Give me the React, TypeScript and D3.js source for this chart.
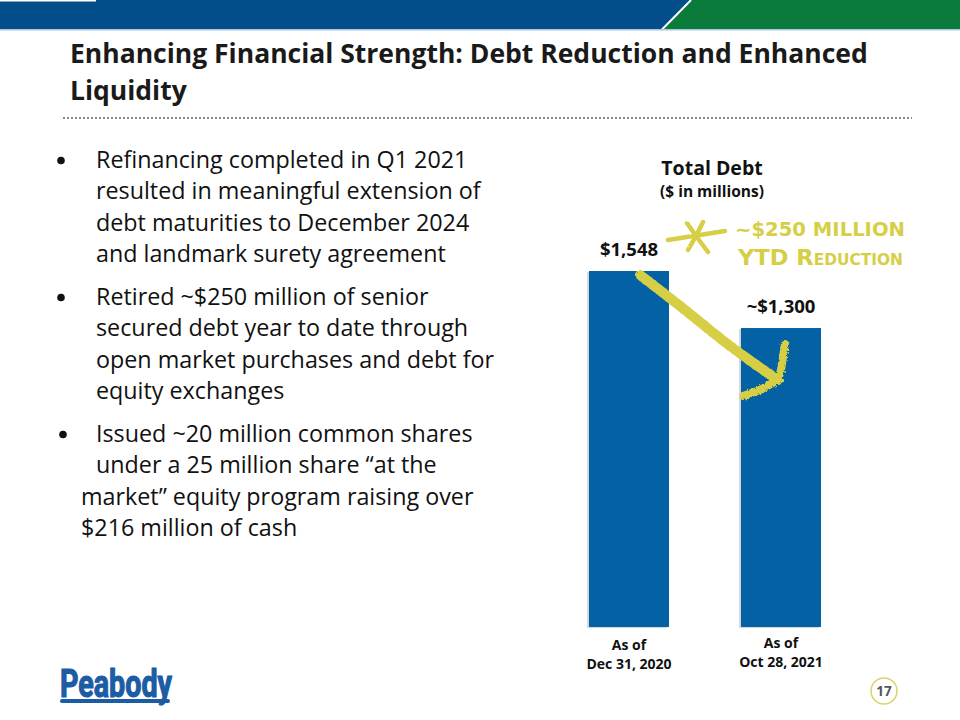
import React from "react";
import * as d3 from "d3";

// Chart data
const categories = ["Dec 31, 2020", "Oct 28, 2021"];
const categoryPrefix = ["As of", "As of"];
const debtValues = [1548, 1300];
const valueLabels = ["$1,548", "~$1,300"];

// Slide text
const titleLines = [
  "Enhancing Financial Strength: Debt Reduction and Enhanced",
  "Liquidity",
];
const bullets: { lines: string[]; indents: number[] }[] = [
  {
    lines: [
      "Refinancing completed in Q1 2021",
      "resulted in meaningful extension of",
      "debt maturities to December 2024",
      "and landmark surety agreement",
    ],
    indents: [96, 96, 96, 96],
  },
  {
    lines: [
      "Retired ~$250 million of senior",
      "secured debt year to date through",
      "open market purchases and debt for",
      "equity exchanges",
    ],
    indents: [96, 96, 96, 96],
  },
  {
    lines: [
      "Issued ~20 million common shares",
      "under a 25 million share \u201cat the",
      "market\u201d equity program raising over",
      "$216 million of cash",
    ],
    indents: [96, 96, 81, 81],
  },
];
const bulletTops = [168, 305, 442];
const annotationLines = ["~$250 MILLION", "YTD Reduction"];

const W = 960;
const H = 720;
const FONT = "'Open Sans', Lato, sans-serif";
const BAR = "#0462a4";
const MARKER = "#d6cf45";

export default function App() {
  const x = d3
    .scaleBand<string>()
    .domain(categories)
    .range([589, 821])
    .paddingInner(72 / 152)
    .paddingOuter(0);
  const y = d3.scaleLinear().domain([0, debtValues[0]]).range([627, 271]);

  const lineH = 31.3;

  // Hand-drawn arrow from the first bar down to the second
  const shaft = d3.line().curve(d3.curveCatmullRom)([
    [640, 275],
    [680, 306],
    [730, 346],
    [778, 380],
  ]);
  const head = d3.line()([
    [785, 344],
    [781, 370],
    [778, 380],
    [760, 390],
    [743, 396],
  ]);
  // Asterisk: a long stroke plus four arms around a centre point
  const starCentre: [number, number] = [696, 236];
  const starEnds: [number, number][] = [
    [687, 223],
    [703, 222],
    [708, 252],
    [688, 250],
  ];

  return (
    <svg
      width={W}
      height={H}
      viewBox={`0 0 ${W} ${H}`}
      style={{ position: "absolute", left: 0, top: 0, background: "#fff" }}
    >
      <defs>
        <filter id="rough" x="-10%" y="-10%" width="120%" height="120%">
          <feTurbulence type="fractalNoise" baseFrequency="0.35" numOctaves="2" seed="3" />
          <feDisplacementMap in="SourceGraphic" scale="4" />
        </filter>
        <filter id="roughSoft" x="-10%" y="-10%" width="120%" height="120%">
          <feTurbulence type="fractalNoise" baseFrequency="0.3" numOctaves="2" seed="5" />
          <feDisplacementMap in="SourceGraphic" scale="1.8" />
        </filter>
      </defs>

      {/* Header band */}
      <polygon points="0,0 691,0 662,29 0,29" fill="#034e8a" />
      <polygon points="691,0 960,0 960,29 662,29" fill="#0a7b3a" />
      <line x1={662} y1={29.5} x2={691} y2={0} stroke="#fff" strokeWidth={2} />
      <rect x={0} y={29} width={W} height={1.5} fill="#a9c6e0" />
      <rect x={0} y={0} width={96} height={1.5} fill="#fff" />

      {/* Title */}
      {titleLines.map((t, i) => (
        <text
          key={t}
          x={70}
          y={63 + i * 37}
          fontFamily={FONT}
          fontWeight={700}
          fontSize={26.5}
          fill="#1a1a1a"
        >
          {t}
        </text>
      ))}
      <line
        x1={63}
        y1={118}
        x2={912}
        y2={118}
        stroke="#8a8a8a"
        strokeWidth={2}
        strokeDasharray="2 2"
      />

      {/* Bullets */}
      {bullets.map((b, bi) => (
        <g key={bi}>
          <circle cx={bi === 2 ? 63 : 61} cy={bulletTops[bi] - 7.5} r={3.8} fill="#111" />
          {b.lines.map((l, li) => (
            <text
              key={li}
              x={b.indents[li]}
              y={bulletTops[bi] + li * lineH}
              fontFamily={FONT}
              fontSize={23.3}
              fill="#111"
            >
              {l}
            </text>
          ))}
        </g>
      ))}

      {/* Chart title */}
      <text x={712} y={175} textAnchor="middle" fontFamily={FONT} fontWeight={700} fontSize={19.5} fill="#111">
        Total Debt
      </text>
      <text x={712} y={197} textAnchor="middle" fontFamily={FONT} fontWeight={700} fontSize={15.5} fill="#111">
        ($ in millions)
      </text>

      {/* Bars */}
      {categories.map((c, i) => {
        const bx = x(c)!;
        const by = y(debtValues[i]);
        return (
          <g key={c}>
            <rect x={bx - 2} y={by + 1} width={x.bandwidth()} height={y(0) - by} fill="#b9bcc0" opacity={0.6} />
            <rect x={bx} y={by} width={x.bandwidth()} height={y(0) - by} fill={BAR} />
            <text
              x={bx + x.bandwidth() / 2}
              y={by - 15}
              textAnchor="middle"
              fontFamily={FONT}
              fontWeight={700}
              fontSize={18.5}
              fill="#111"
            >
              {valueLabels[i]}
            </text>
            <text
              x={bx + x.bandwidth() / 2}
              y={650 - i * 2}
              textAnchor="middle"
              fontFamily={FONT}
              fontWeight={700}
              fontSize={14}
              fill="#111"
            >
              {categoryPrefix[i]}
            </text>
            <text
              x={bx + x.bandwidth() / 2}
              y={669 - i * 2}
              textAnchor="middle"
              fontFamily={FONT}
              fontWeight={700}
              fontSize={14}
              fill="#111"
            >
              {c}
            </text>
          </g>
        );
      })}

      {/* Marker annotation */}
      <g filter="url(#roughSoft)">
        <line x1={668} y1={240} x2={725} y2={231} stroke={MARKER} strokeWidth={4.5} strokeLinecap="round" />
        {starEnds.map((e, i) => (
          <line
            key={i}
            x1={starCentre[0]}
            y1={starCentre[1]}
            x2={e[0]}
            y2={e[1]}
            stroke={MARKER}
            strokeWidth={4.5}
            strokeLinecap="round"
          />
        ))}
      </g>
      <g filter="url(#rough)">
        <path d={shaft!} fill="none" stroke={MARKER} strokeWidth={10} strokeLinecap="round" />
        <path d={head!} fill="none" stroke={MARKER} strokeWidth={8} strokeLinecap="round" strokeLinejoin="round" />
      </g>
      <g fill={MARKER} fontFamily="'DejaVu Sans', sans-serif" fontWeight={700}>
        <text x={735} y={236} fontSize={20} textLength={170} lengthAdjust="spacingAndGlyphs">
          {annotationLines[0]}
        </text>
        <text
          x={738}
          y={265}
          fontSize={22}
          style={{ fontVariant: "small-caps" }}
          textLength={165}
          lengthAdjust="spacingAndGlyphs"
        >
          {annotationLines[1]}
        </text>
      </g>

      {/* Logo */}
      <text
        x={60}
        y={697}
        fontFamily="'Liberation Sans Narrow', 'Roboto', sans-serif"
        fontWeight={700}
        fontSize={38}
        fill="#1b5ca5"
        stroke="#1b5ca5"
        strokeWidth={1.2}
        textLength={112}
        lengthAdjust="spacingAndGlyphs"
      >
        Peabody
      </text>
      <rect x={60} y={699} width={110} height={4} rx={2} fill="#1b5ca5" />

      {/* Page number */}
      <circle cx={884} cy={691} r={13} fill="#fff" stroke="#d9d36a" strokeWidth={1.5} />
      <text x={884} y={696} textAnchor="middle" fontFamily={FONT} fontWeight={700} fontSize={13.5} fill="#555">
        17
      </text>
    </svg>
  );
}
